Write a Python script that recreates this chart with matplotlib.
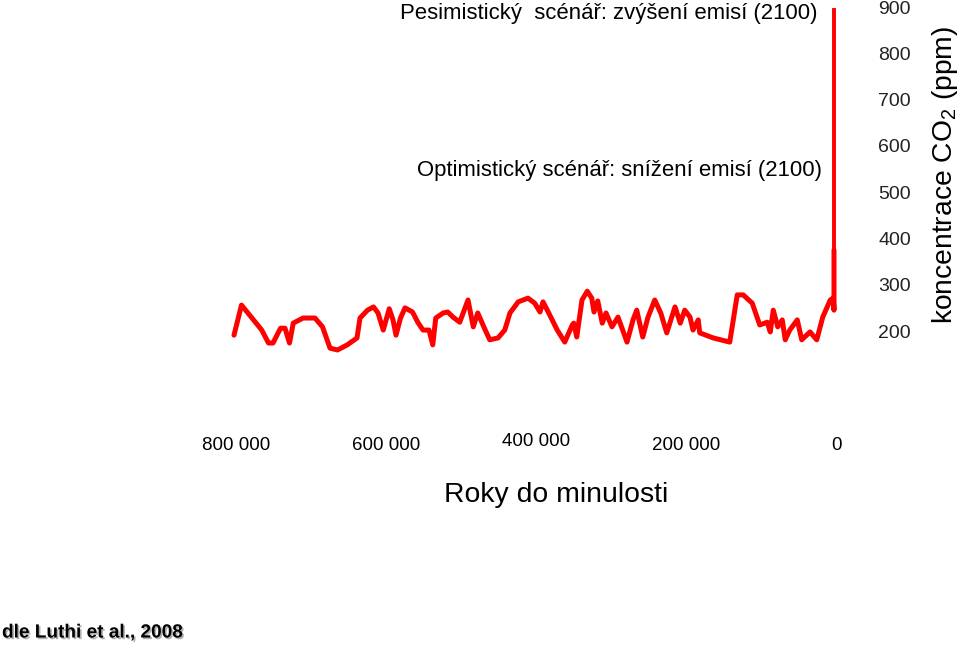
import matplotlib
matplotlib.use('Agg')
import matplotlib.pyplot as plt
import matplotlib.patheffects as pe
from matplotlib.transforms import blended_transform_factory

plt.rcParams['font.family'] = ['Liberation Sans', 'DejaVu Sans']
plt.rcParams['mathtext.fontset'] = 'custom'
plt.rcParams['mathtext.rm'] = 'Liberation Sans'

# ice core record, years before present and CO2 in ppm
years = [800000, 790000, 776000, 763000, 754000, 748000, 738000, 732000, 726000, 721000,
         708000, 692000, 682000, 672000, 662000, 649000, 636000, 632000, 622000, 614000,
         608000, 601000, 593000, 588000, 584000, 578000, 572000, 562000, 555000, 548000,
         540000, 535000, 531000, 521000, 515000, 508000, 499000, 488000, 481000, 475000,
         465000, 459000, 448000, 439000, 432000, 421000, 408000, 399000, 392000, 388000,
         381000, 369000, 359000, 349000, 347000, 343000, 336000, 329000, 323000, 320000,
         315000, 309000, 304000, 296000, 288000, 276000, 268000, 263000, 255000, 248000,
         239000, 231000, 223000, 212000, 205000, 199000, 192000, 188000, 181000, 179000,
         161000, 139000, 129000, 121000, 109000, 99000, 89000, 85000, 81000, 75000,
         69000, 65000, 59000, 49000, 43000, 32000, 23000, 15000, 5000, 1000, 0, 0]
co2 = [191, 256, 228, 202, 174, 174, 206, 206, 174, 217,
       228, 228, 209, 163, 159, 170, 185, 228, 245, 252,
       239, 202, 248, 224, 191, 228, 250, 241, 219, 202,
       202, 170, 228, 239, 241, 230, 219, 267, 209, 239,
       202, 181, 185, 202, 239, 263, 271, 260, 241, 263,
       241, 202, 176, 213, 217, 187, 267, 286, 271, 241,
       265, 217, 239, 209, 230, 176, 224, 245, 187, 230,
       267, 239, 196, 252, 217, 245, 230, 202, 224, 196,
       185, 176, 278, 278, 260, 213, 219, 198, 245, 209,
       224, 181, 202, 224, 181, 198, 181, 230, 267, 271, 245, 375]

# pessimistic scenario for 2100
scen_years = [0, 0]
scen_co2 = [375, 893]

x_ticks = [800000, 600000, 400000, 200000, 0]
x_labels = ['800 000', '600 000', '400 000', '200 000', '0']
y_ticks = [200, 300, 400, 500, 600, 700, 800, 900]

W, H = 960, 648
fig = plt.figure(figsize=(W / 100, H / 100), dpi=100)
ax = fig.add_axes([234 / W, (H - 331) / H, 600 / W, 324 / H])
ax.set_xlim(800000, 0)
ax.set_ylim(200, 900)
for s in ax.spines.values():
    s.set_visible(False)
ax.set_xticks([])

ax.plot(years, co2, color='#ff0000', lw=3.6, solid_joinstyle='round',
        solid_capstyle='round', clip_on=False)
ax.plot(scen_years, scen_co2, color='#ff0000', lw=2.8, clip_on=False)

ax.yaxis.tick_right()
ax.set_yticks(y_ticks)
ax.set_yticklabels([str(v) for v in y_ticks])
ax.tick_params(axis='y', length=0, pad=32, labelsize=14, labelcolor='#222222')

trans = blended_transform_factory(ax.transData, fig.transFigure)
for xv, lab in zip(x_ticks, x_labels):
    yy = 441 if lab == '400 000' else 446
    ax.text(xv - 3000, 1 - yy / H, lab, transform=trans, ha='center', va='center',
            fontsize=13.5)

fig.text(556 / W, 1 - 495 / H, 'Roky do minulosti', ha='center', va='center', fontsize=20.4)
fig.text(945 / W, 1 - 175 / H, 'koncentrace CO$_\\mathrm{2}$ (ppm)', rotation=90,
         ha='center', va='center', fontsize=20.3)

fig.text(817 / W, 1 - 14 / H, 'Pesimistický  scénář: zvýšení emisí (2100)',
         ha='right', va='center', fontsize=15.9)
fig.text(822 / W, 1 - 170 / H, 'Optimistický scénář: snížení emisí (2100)',
         ha='right', va='center', fontsize=15.9)

fig.text(2 / W, 1 - 633 / H, 'dle Luthi et al., 2008', ha='left', va='center',
         fontsize=13.7, fontweight='bold',
         path_effects=[pe.withSimplePatchShadow(offset=(1.2, -1.2), shadow_rgbFace='gray',
                                                 alpha=0.6)])

fig.savefig('out.png', dpi=100)
